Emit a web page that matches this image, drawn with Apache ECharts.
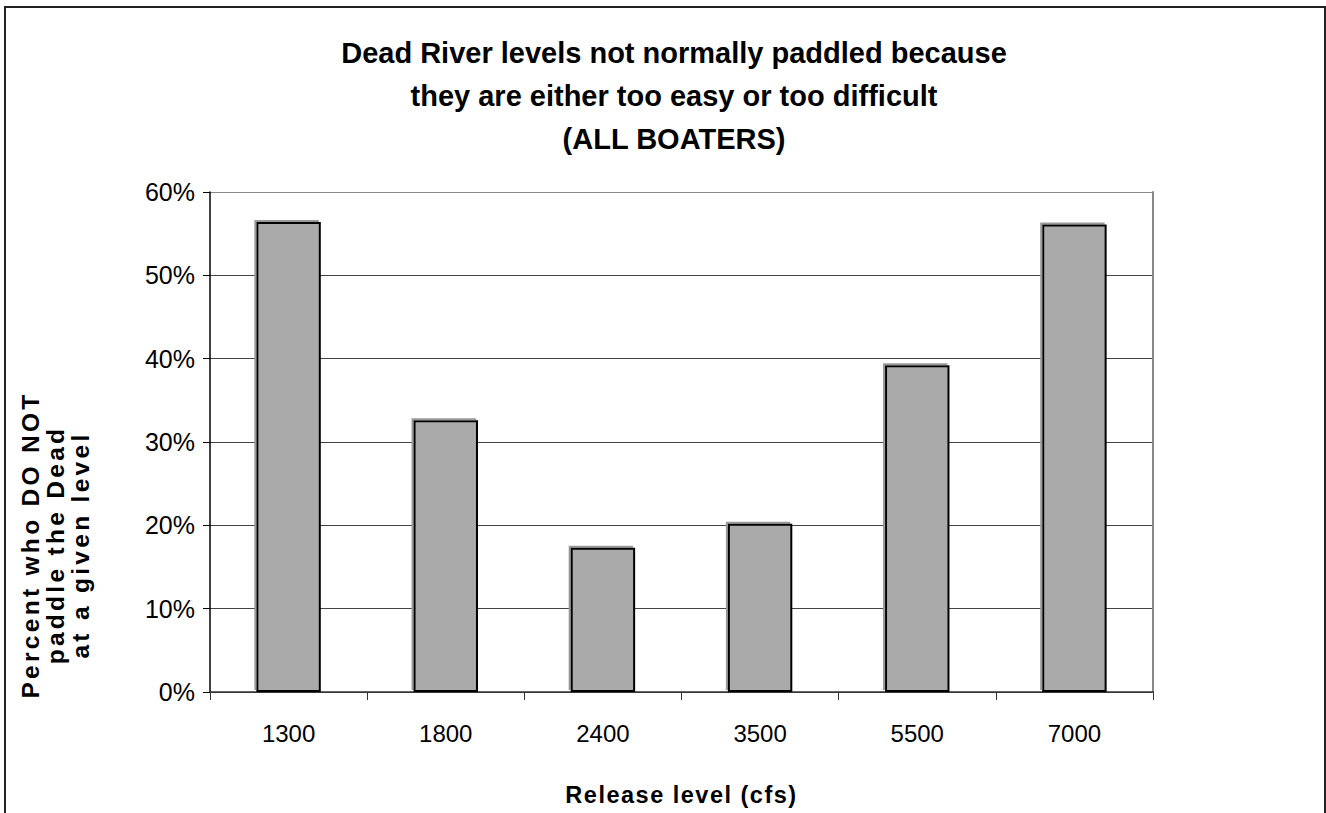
<!DOCTYPE html>
<html>
<head>
<meta charset="utf-8">
<script src="https://cdn.jsdelivr.net/npm/echarts@6/dist/echarts.min.js"></script>
<style>
  html, body { margin: 0; padding: 0; background: #fff; }
  #chart { width: 1326px; height: 813px; }
  /* spaced-out bold axis titles */
  #chart text[style*="24.5px"] { letter-spacing: 3.3px; }
  #chart text[style*="23.5px"] { letter-spacing: 1.5px; }
</style>
</head>
<body>
<div id="chart"></div>
<script>
// Release levels (cfs) and share of boaters who skip each level
const releaseLevels = ['1300', '1800', '2400', '3500', '5500', '7000'];
const pctNotPaddled = [56.4, 32.6, 17.3, 20.2, 39.2, 56.1];
const yTicks = { min: 0, max: 60, step: 10 };

const titleLines = [
  'Dead River levels not normally paddled because',
  'they are either too easy or too difficult',
  '(ALL BOATERS)'
];
const yTitleLines = ['Percent who DO NOT', 'paddle the Dead', 'at a given level'];
const xTitle = 'Release level (cfs)';

const sans = "'Liberation Sans', Arial, sans-serif";

const chart = echarts.init(document.getElementById('chart'), null, { renderer: 'svg' });
chart.setOption({
  backgroundColor: '#fff',
  animation: false,
  title: {
    text: titleLines.join('\n'),
    left: 669,
    top: 26,
    textAlign: 'center',
    textStyle: {
      fontFamily: sans,
      fontWeight: 'bold',
      fontSize: 29,
      lineHeight: 43,
      color: '#000'
    }
  },
  grid: { left: 210, right: 173, top: 192, bottom: 121 },
  xAxis: {
    type: 'category',
    data: releaseLevels,
    name: xTitle,
    nameLocation: 'middle',
    nameGap: 91,
    nameTextStyle: { fontFamily: sans, fontWeight: 'bold', fontSize: 23.5, color: '#000' },
    axisLine: { lineStyle: { color: '#333', width: 1.5 } },
    axisTick: { show: true, length: 8, lineStyle: { color: '#333' } },
    axisLabel: { margin: 29, fontFamily: sans, fontSize: 24, color: '#000' }
  },
  yAxis: [
    {
      type: 'value',
      min: yTicks.min,
      max: yTicks.max,
      interval: yTicks.step,
      axisLine: { show: true, lineStyle: { color: '#000', width: 1.5 } },
      axisTick: { show: true, length: 7, lineStyle: { color: '#000' } },
      axisLabel: {
        margin: 15,
        formatter: '{value}%',
        fontFamily: sans,
        fontSize: 25,
        color: '#000'
      },
      splitLine: {
        show: true,
        lineStyle: { color: ['#444', '#444', '#444', '#444', '#444', '#444', '#888'], width: 1 }
      }
    },
    {
      type: 'value',
      position: 'right',
      min: yTicks.min,
      max: yTicks.max,
      interval: yTicks.step,
      axisLine: { show: true, lineStyle: { color: '#888', width: 2 } },
      axisTick: { show: false },
      axisLabel: { show: false },
      splitLine: { show: false }
    }
  ],
  series: [
    {
      type: 'bar',
      data: pctNotPaddled,
      barWidth: '41%',
      itemStyle: {
        color: '#aaaaaa',
        borderColor: '#000',
        borderWidth: 2,
        shadowColor: '#999',
        shadowBlur: 0,
        shadowOffsetX: -2,
        shadowOffsetY: -2
      }
    }
  ],
  graphic: [
    {
      type: 'rect',
      silent: true,
      shape: { x: 5, y: 7, width: 1320, height: 900 },
      style: { fill: 'none', stroke: '#222', lineWidth: 2 }
    },
    {
      type: 'text',
      silent: true,
      x: 55,
      y: 545,
      rotation: Math.PI / 2,
      style: {
        text: yTitleLines.join('\n'),
        align: 'center',
        verticalAlign: 'middle',
        fontFamily: sans,
        fontWeight: 'bold',
        fontSize: 24.5,
        lineHeight: 25,
        fill: '#000'
      }
    }
  ]
});
</script>
</body>
</html>
